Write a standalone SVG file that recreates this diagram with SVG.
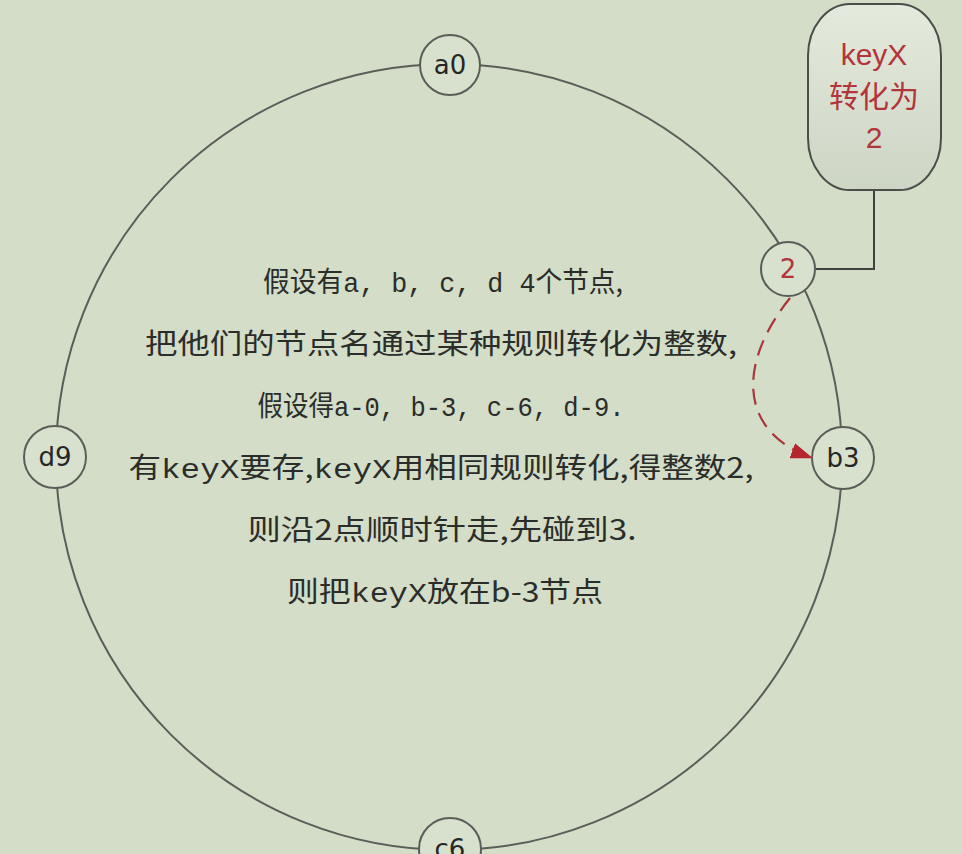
<svg xmlns="http://www.w3.org/2000/svg" width="962" height="854" viewBox="0 0 962 854">
  <style>
    .bg { fill: #d3ddc8; }
    .ring { fill: none; stroke: #5a5e58; stroke-width: 2; }
    .node { fill: #d8e1ce; stroke: #5a5e58; stroke-width: 2; }
    .lbl { font-family: "DejaVu Sans", "Liberation Sans", sans-serif; font-size: 26px; fill: #262626; text-anchor: middle; dominant-baseline: central; }
    .red { fill: #b3353c; }
    .link { fill: none; stroke: #3e423c; stroke-width: 2; }
    .dash { fill: none; stroke: #a9353a; stroke-width: 2.2; stroke-dasharray: 16 9; }
    .body { font-family: "Noto Sans CJK SC", "Noto Sans", sans-serif; font-size: 28px; fill: #2b2d2a; text-anchor: middle; }
    .lat { font-family: "Liberation Mono", "Noto Sans CJK SC", monospace; }
    .call { font-family: "Liberation Sans", "Noto Sans CJK SC", sans-serif; font-size: 30px; fill: #b3353c; text-anchor: middle; }
  </style>
  <defs>
    <linearGradient id="callGrad" x1="0" y1="0" x2="0" y2="1">
      <stop offset="0" stop-color="#e4eadd"/>
      <stop offset="1" stop-color="#cdd5c5"/>
    </linearGradient>
    <marker id="arrow" viewBox="0 0 22 16" refX="21" refY="8" markerWidth="22" markerHeight="16" markerUnits="userSpaceOnUse" orient="auto">
      <path d="M0,0 L22,8 L0,16 Z" fill="#b3262c"/>
    </marker>
  </defs>
  <rect class="bg" x="0" y="0" width="962" height="854"/>

  <g id="connectors">
    <circle class="ring" cx="449" cy="457" r="393"/>
    <polyline class="link" points="874,190 874,269 816,269"/>
    <path class="dash" d="M790,298 C740,360 735,430 812,458" marker-end="url(#arrow)"/>
  </g>

  <g id="callout">
    <rect x="808" y="4" width="133" height="186" rx="42" ry="52" fill="url(#callGrad)" stroke="#4a4e48" stroke-width="2"/>
    <text class="call" x="874" y="65">keyX</text>
    <text class="call" x="874" y="107">转化为</text>
    <text class="call" x="874" y="148">2</text>
  </g>

  <g id="node-a0">
    <circle class="node" cx="450" cy="65" r="30"/>
    <text class="lbl" x="450" y="65">a0</text>
  </g>
  <g id="node-d9">
    <circle class="node" cx="55" cy="457" r="31"/>
    <text class="lbl" x="55" y="457">d9</text>
  </g>
  <g id="node-b3">
    <circle class="node" cx="843" cy="458" r="31"/>
    <text class="lbl" x="843" y="458">b3</text>
  </g>
  <g id="node-c6">
    <circle class="node" cx="450" cy="849" r="31"/>
    <text class="lbl" x="450" y="849">c6</text>
  </g>
  <g id="node-2">
    <circle class="node" cx="788" cy="269" r="27"/>
    <text class="lbl red" x="788" y="269">2</text>
  </g>

  <g id="description">
    <text class="body" x="443" y="292" textLength="360" lengthAdjust="spacingAndGlyphs">假设有<tspan class="lat">a, b, c, d 4</tspan>个节点,</text>
    <text class="body" x="441" y="354" textLength="592" lengthAdjust="spacingAndGlyphs">把他们的节点名通过某种规则转化为整数,</text>
    <text class="body" x="441" y="416" textLength="367" lengthAdjust="spacingAndGlyphs">假设得<tspan class="lat">a-0, b-3, c-6, d-9.</tspan></text>
    <text class="body" x="441" y="478" textLength="625" lengthAdjust="spacingAndGlyphs">有<tspan class="lat">keyX</tspan>要存,<tspan class="lat">keyX</tspan>用相同规则转化,得整数2,</text>
    <text class="body" x="442" y="540" textLength="389" lengthAdjust="spacingAndGlyphs">则沿2点顺时针走,先碰到3.</text>
    <text class="body" x="445" y="602" textLength="316" lengthAdjust="spacingAndGlyphs">则把<tspan class="lat">keyX</tspan>放在b-3节点</text>
  </g>
</svg>
